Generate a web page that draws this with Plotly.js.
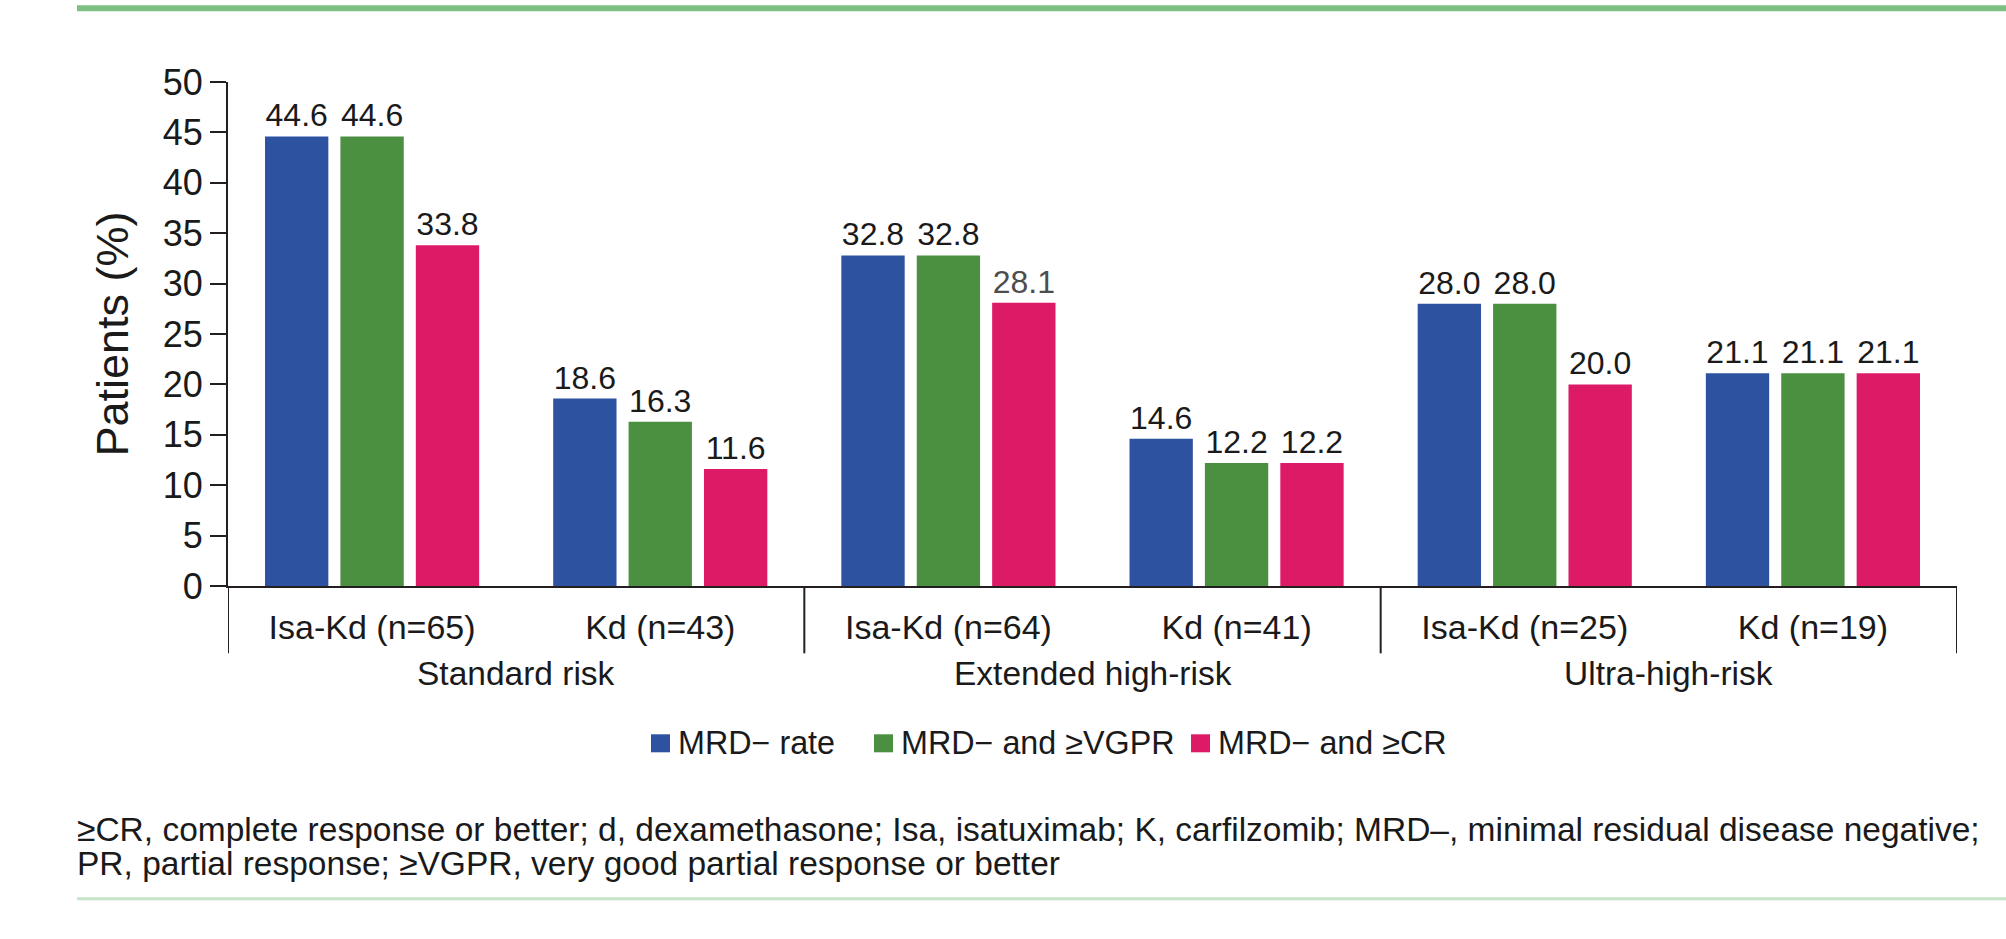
<!DOCTYPE html>
<html>
<head>
<meta charset="utf-8">
<script src="https://cdn.plot.ly/plotly-3.0.1.min.js"></script>
<style>
  html, body { margin: 0; padding: 0; background: #ffffff; }
  #chart { width: 2006px; height: 939px; }
</style>
</head>
<body>
<div id="chart"></div>
<script>
// ---- data ----
const categories = ["Isa-Kd (n=65)", "Kd (n=43)", "Isa-Kd (n=64)", "Kd (n=41)", "Isa-Kd (n=25)", "Kd (n=19)"];
const riskGroups = ["Standard risk", "Extended high-risk", "Ultra-high-risk"];
const seriesNames = ["MRD\u2212 rate", "MRD\u2212 and \u2265VGPR", "MRD\u2212 and \u2265CR"];
const mrdRate = [44.6, 18.6, 32.8, 14.6, 28.0, 21.1];
const mrdVgpr = [44.6, 16.3, 32.8, 12.2, 28.0, 21.1];
const mrdCr = [33.8, 11.6, 28.1, 12.2, 20.0, 21.1];
const yTicks = [0, 5, 10, 15, 20, 25, 30, 35, 40, 45, 50];
const footnoteLines = [
  "\u2265CR, complete response or better; d, dexamethasone; Isa, isatuximab; K, carfilzomib; MRD\u2013, minimal residual disease negative;",
  "PR, partial response; \u2265VGPR, very good partial response or better"
];

// ---- styling ----
const colors = ["#2d53a0", "#4b8f40", "#dd1a66"];
const FONT = "Liberation Sans, Arial, Helvetica, sans-serif";
const TXT = "#1a1a1a";
const W = 2006, H = 939;
const L = 228, R = 1957, T = 81.7, B = 585.7;
const px = v => (v - L) / (R - L);   // pixel x -> paper x
const py = v => (B - v) / (B - T);   // pixel y -> paper y

const seriesValues = [mrdRate, mrdVgpr, mrdCr];
const traces = seriesValues.map((vals, i) => ({
  type: "bar",
  name: seriesNames[i],
  x: categories,
  y: vals,
  marker: { color: colors[i], line: { width: 0 } },
  texttemplate: "%{y:.1f}",
  textposition: "outside",
  constraintext: "none",
  cliponaxis: false,
  textfont: {
    family: FONT, size: 32,
    color: vals.map((v, j) => (i === 2 && j === 2) ? "#4d4d4d" : TXT)
  },
  hoverinfo: "skip",
  showlegend: false
}));

const shapes = [];
// group dividers below the x axis
[-0.5, 1.5, 3.5, 5.5].forEach(xv => {
  shapes.push({ type: "line", xref: "x", yref: "paper", x0: xv, x1: xv, y0: 0, y1: py(653),
    line: { color: "#231f20", width: 2 } });
});
// decorative rules top and bottom
shapes.push({ type: "line", xref: "paper", yref: "paper", x0: px(77), x1: px(2006), y0: py(8), y1: py(8),
  line: { color: "#7cc084", width: 6 } });
shapes.push({ type: "line", xref: "paper", yref: "paper", x0: px(77), x1: px(2006), y0: py(898.5), y1: py(898.5),
  line: { color: "#c6e4c9", width: 3 } });

const annotations = [];
riskGroups.forEach((g, k) => {
  annotations.push({ text: g, xref: "x", yref: "paper", x: 2 * k + 0.5, y: py(673),
    xanchor: "center", yanchor: "middle", showarrow: false,
    font: { family: FONT, size: 33.5, color: TXT } });
});

// legend (key squares + labels), laid out from the series names/colours
const legendSquareX = [651, 874, 1191];
const legendY = 743;
seriesNames.forEach((name, i) => {
  const x0 = legendSquareX[i];
  shapes.push({ type: "rect", xref: "paper", yref: "paper",
    x0: px(x0), x1: px(x0 + 19), y0: py(legendY - 9), y1: py(legendY + 9),
    fillcolor: colors[i], line: { width: 0 } });
  annotations.push({ text: name, xref: "paper", yref: "paper", x: px(x0 + 25), y: py(legendY),
    xanchor: "left", yanchor: "middle", showarrow: false,
    font: { family: FONT, size: 32.3, color: TXT } });
});

footnoteLines.forEach((t, k) => {
  annotations.push({ text: t, xref: "paper", yref: "paper", x: px(75), y: py(829 + k * 34.5),
    xanchor: "left", yanchor: "middle", showarrow: false,
    font: { family: FONT, size: 33.5, color: TXT } });
});

const layout = {
  width: W, height: H,
  margin: { l: L, r: W - R, t: T, b: H - B, pad: 0 },
  paper_bgcolor: "#ffffff", plot_bgcolor: "#ffffff",
  barmode: "group",
  bargap: 0.215,
  bargroupgap: 0.16,
  showlegend: false,
  xaxis: {
    type: "category",
    range: [-0.5, 5.5],
    showline: true, linecolor: "#231f20", linewidth: 2,
    ticks: "", showgrid: false, zeroline: false,
    tickfont: { family: FONT, size: 34, color: TXT },
    ticklabelstandoff: 10,
    fixedrange: true
  },
  yaxis: {
    range: [0, 50],
    tickvals: yTicks,
    ticktext: yTicks.map(String),
    showline: true, linecolor: "#231f20", linewidth: 2,
    ticks: "outside", ticklen: 16, tickwidth: 2, tickcolor: "#231f20",
    showgrid: false, zeroline: false,
    tickfont: { family: FONT, size: 36, color: TXT },
    ticklabelstandoff: 0,
    title: { text: "Patients (%)", font: { family: FONT, size: 45, color: TXT }, standoff: 20 },
    fixedrange: true
  },
  shapes: shapes,
  annotations: annotations,
  font: { family: FONT }
};

Plotly.newPlot("chart", traces, layout, { displayModeBar: false, staticPlot: true });
</script>
</body>
</html>
